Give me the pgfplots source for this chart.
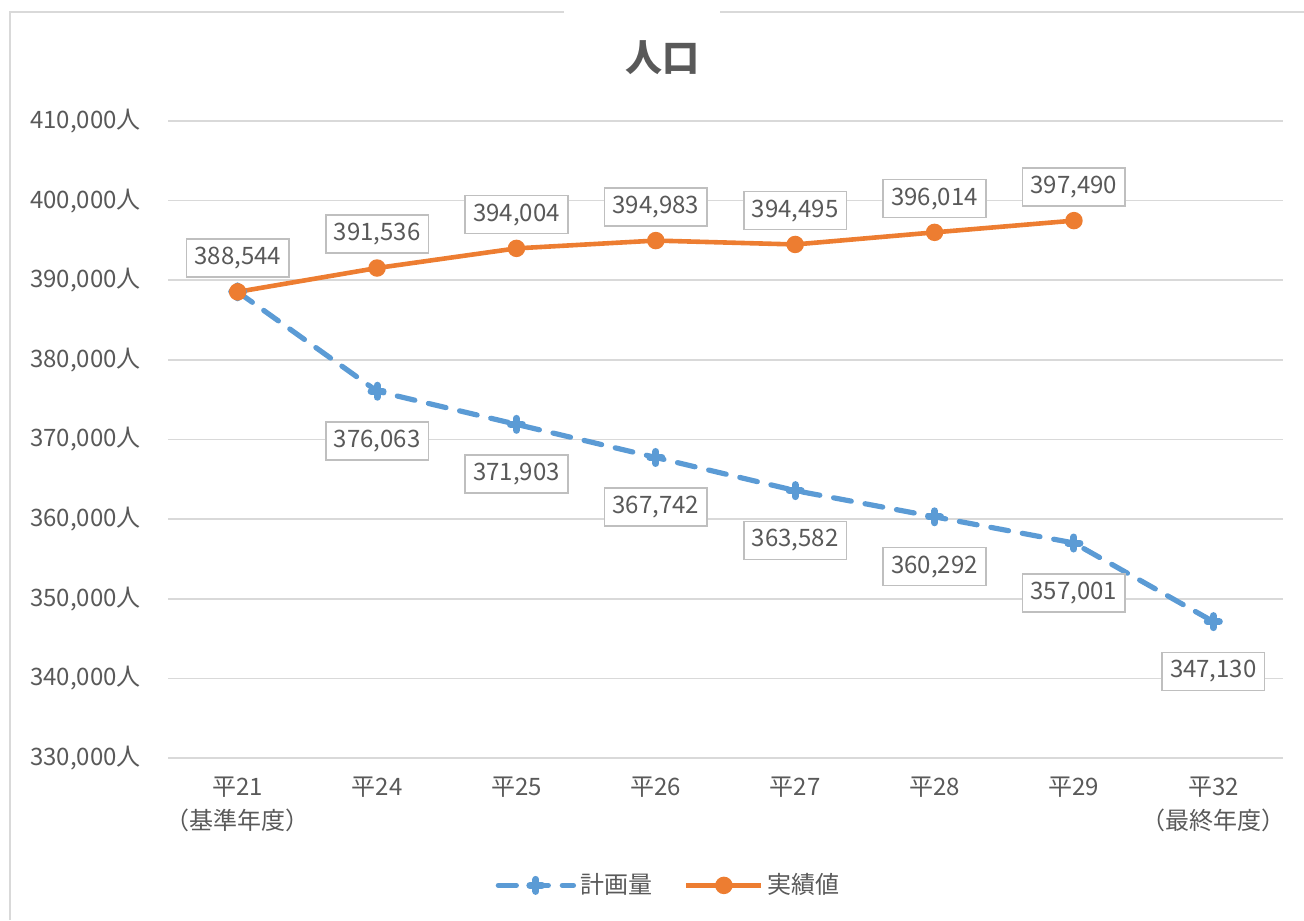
\documentclass[border=0pt]{standalone}
\usepackage{pgfplots}
\pgfplotsset{compat=1.18}
\usepackage{fontspec}
\setmainfont{Noto Sans CJK JP}
\definecolor{cblue}{HTML}{5B9BD5}
\definecolor{corange}{HTML}{ED7D31}
\definecolor{cgrid}{HTML}{D9D9D9}
\definecolor{ctext}{HTML}{595959}
\definecolor{cbox}{HTML}{BFBFBF}
\begin{document}
\begin{tikzpicture}
\useasboundingbox (0,0) rectangle (652pt,460pt);
\draw[cgrid, line width=1pt] (5pt,0) -- (5pt,454pt) -- (282pt,454pt);
\draw[cgrid, line width=1pt] (360pt,454pt) -- (652pt,454pt);
\node[font=\fontsize{18.5}{20}\selectfont\bfseries, text=ctext] at (331pt,431pt) {人口};
\begin{axis}[
  at={(84pt,81pt)}, anchor=south west,
  scale only axis, width=557.5pt, height=318.5pt,
  xmin=-0.5, xmax=7.5, ymin=330000, ymax=410000,
  ytick={330000,340000,...,410000},
  scaled y ticks=false,
  xtick={0,...,7},
  xticklabels={{平21\\（基準年度）},平24,平25,平26,平27,平28,平29,{平32\\（最終年度）}},
  xticklabel style={align=center, font=\fontsize{12}{17}\selectfont, text=ctext, yshift=-6pt},
  yticklabel={\pgfmathprintnumber{\tick}人},
  yticklabel style={font=\fontsize{12}{14}\selectfont, text=ctext, xshift=-10pt},
  /pgf/number format/.cd, fixed, precision=0, 1000 sep={,}, assume math mode=true,
  /pgfplots/.cd,
  axis line style={draw=none},
  major tick length=0pt,
  ymajorgrids, grid style={cgrid, line width=0.8pt},
  clip=false,
  legend columns=2,
  legend style={draw=none, at={(0.45,-0.20)}, anchor=center, font=\fontsize{12}{14}\selectfont, text=ctext,
    /tikz/every even column/.append style={column sep=14pt}},
  legend image code/.code={
    \draw[mark repeat=2,mark phase=2] plot coordinates {(0cm,0cm) (0.66cm,0cm) (1.32cm,0cm)};},
]
\addplot[cblue, line width=2.6pt, dash pattern=on 9pt off 7pt, dash phase=0pt, line cap=round,
  mark=+, mark size=3pt, mark options={solid, line width=3.5pt}]
  coordinates {(0,388544) (1,376063) (2,371903) (3,367742) (4,363582) (5,360292) (6,357001) (7,347130)};
\addlegendentry{計画量}
\addplot[corange, line width=2.3pt, mark=*, mark size=3.2pt]
  coordinates {(0,388544) (1,391536) (2,394004) (3,394983) (4,394495) (5,396014) (6,397490)};
\addlegendentry{実績値}
% data labels
\addplot[draw=none, forget plot, nodes near coords,
  every node near coord/.append style={draw=cbox, line width=0.8pt, fill=white, inner sep=4pt,
    font=\fontsize{12}{14}\selectfont, text=ctext, anchor=north, yshift=-15pt}]
  coordinates {(1,376063) (2,371903) (3,367742) (4,363582) (5,360292) (6,357001) (7,347130)};
\addplot[draw=none, forget plot, nodes near coords,
  every node near coord/.append style={draw=cbox, line width=0.8pt, fill=white, inner sep=4pt,
    font=\fontsize{12}{14}\selectfont, text=ctext, anchor=south, yshift=7pt}]
  coordinates {(0,388544) (1,391536) (2,394004) (3,394983) (4,394495) (5,396014) (6,397490)};
\end{axis}
\end{tikzpicture}
\end{document}
